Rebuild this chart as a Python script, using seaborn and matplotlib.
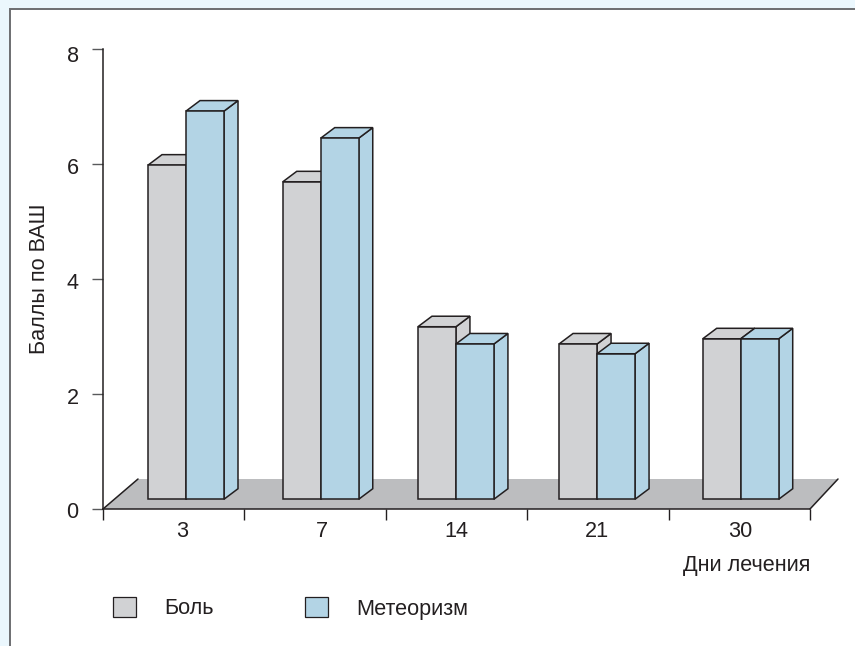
import matplotlib
matplotlib.use("Agg")
import matplotlib.pyplot as plt
from matplotlib.patches import Polygon, Rectangle
from matplotlib.transforms import ScaledTranslation
import pandas as pd
import seaborn as sns

days = ["3", "7", "14", "21", "30"]
pain = [5.98, 5.69, 3.17, 2.87, 2.96]
bloating = [6.92, 6.45, 2.87, 2.7, 2.96]
series_names = ["Боль", "Метеоризм"]
y_ticks = [0, 2, 4, 6, 8]

# layout
W, H = 855, 646
GRAY, BLUE, FLOOR = "#D1D2D4", "#B3D4E5", "#BCBDBF"
INK = "#231F20"
LW = 1.1
floor_level = 0.17
group_shift = [0.087, 0.04, -0.004, -0.006, 0.01]
label_shift = [0.06, 0.05, -0.004, -0.006, 0.01]
ylabel_nudge_px = [1, 2, 2, 2, 5]

sns.set_theme(style="white")
plt.rcParams["font.family"] = ["Liberation Sans", "DejaVu Sans"]
FS = 15.6

fig = plt.figure(figsize=(W / 100, H / 100), dpi=100, facecolor="#EBF7FD")
fig.add_artist(Rectangle((9.5 / W, -0.1), 1.1, 1.1 - 9.5 / H, transform=fig.transFigure,
                         facecolor="white", edgecolor="#6D6E71", lw=1.4, zorder=-5))
ax = fig.add_axes([103 / W, 1 - 509 / H, 707 / W, 460 / H])
ax.patch.set_alpha(0)

df = pd.DataFrame({
    "day": days * 2,
    "series": [series_names[0]] * 5 + [series_names[1]] * 5,
    "height": [v - floor_level for v in pain] + [v - floor_level for v in bloating],
})
sns.barplot(data=df, x="day", y="height", hue="series", order=days, hue_order=series_names,
            palette=[GRAY, BLUE], width=0.5375, gap=0, dodge=True, saturation=1,
            bottom=floor_level, edgecolor=INK, linewidth=LW, ax=ax, legend=False)

ax.set_xlim(-0.5, 4.5)
ax.set_ylim(0, 8)
ux = 707 / 5   # px per category
uy = 460 / 8   # px per value unit
dx, dy = 14 / ux, 10.5 / uy

# floor
ax.add_patch(Polygon([(-0.5, 0), (-0.5 + 35 / ux, 30 / uy), (4.5 + 28 / ux, 30 / uy), (4.5, 0)],
                     closed=True, facecolor=FLOOR, edgecolor="none", zorder=0.5, clip_on=False))
ax.plot([-0.5, -0.5 + 35 / ux], [0, 30 / uy], color=INK, lw=LW, zorder=0.6, clip_on=False)
ax.plot([4.5, 4.5 + 28 / ux], [0, 30 / uy], color=INK, lw=LW, zorder=0.6, clip_on=False)

# extruded bars, built from the seaborn bar patches
for s, cont in enumerate(ax.containers):
    color = [GRAY, BLUE][s]
    for i, bar in enumerate(cont.patches):
        bar.set_x(bar.get_x() + group_shift[i])
        x0, w = bar.get_x(), bar.get_width()
        y0, h = bar.get_y(), bar.get_height()
        x1, y1 = x0 + w, y0 + h
        z = 2 + s * 2
        bar.set_zorder(z + 1)
        bar.set_joinstyle("miter")
        ax.add_patch(Polygon([(x1, y0), (x1 + dx, y0 + dy), (x1 + dx, y1 + dy), (x1, y1)], closed=True,
                             facecolor=color, edgecolor=INK, lw=LW, zorder=z, clip_on=False))
        ax.add_patch(Polygon([(x0, y1), (x0 + dx, y1 + dy), (x1 + dx, y1 + dy), (x1, y1)], closed=True,
                             facecolor=color, edgecolor=INK, lw=LW, zorder=z, clip_on=False))

# axes
for side in ("top", "right"):
    ax.spines[side].set_visible(False)
for side in ("left", "bottom"):
    ax.spines[side].set_color(INK)
    ax.spines[side].set_linewidth(LW)
    ax.spines[side].set_zorder(1)
ax.set_yticks(y_ticks)
ax.set_yticklabels([str(t) for t in y_ticks])
ax.tick_params(axis="y", length=8, width=1.0, color="#58595B", pad=9.5, labelsize=FS, labelcolor=INK, left=True)
for lab, nudge in zip(ax.get_yticklabels(), ylabel_nudge_px):
    lab.set_transform(lab.get_transform() + ScaledTranslation(0, -nudge / 100, fig.dpi_scale_trans))
ax.set_xticks([i + label_shift[i] for i in range(5)])
ax.set_xticklabels(days)
ax.tick_params(axis="x", which="major", length=0, pad=8.8, labelsize=FS, labelcolor=INK)
ax.set_xticks([-0.5 + i for i in range(6)], minor=True)
ax.tick_params(axis="x", which="minor", length=8, width=1.0, color=INK, bottom=True)

ax.set_ylabel("Баллы по ВАШ", fontsize=FS, color=INK)
ax.yaxis.set_label_coords(-0.0745, 0.5)
ax.set_xlabel("Дни лечения", fontsize=FS, color=INK, ha="right", va="center")
ax.xaxis.set_label_coords(1.0, -56 / 460)

# legend
handles = [Rectangle((0, 0), 1, 1, facecolor=c, edgecolor=INK, lw=0.9) for c in (GRAY, BLUE)]
ax.legend(handles, series_names, ncol=2, frameon=False, fontsize=FS, labelcolor=INK,
          loc="lower left", bbox_to_anchor=(113 / W, 1 - 619.5 / H), bbox_transform=fig.transFigure,
          borderpad=0, borderaxespad=0, handlelength=1.06, handleheight=1.06,
          handletextpad=1.29, columnspacing=4.24)

fig.savefig("out.png", dpi=100, facecolor=fig.get_facecolor())
